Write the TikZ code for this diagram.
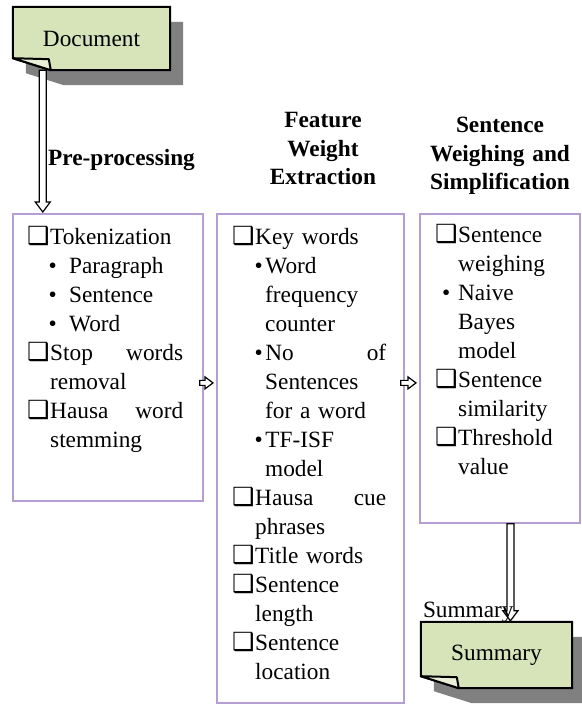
\documentclass[tikz,border=0pt]{standalone}
\usepackage{fontspec}
\setmainfont{Liberation Serif}
\newfontfamily\symfont{DejaVu Sans}
\usetikzlibrary{calc,positioning,backgrounds}
\definecolor{notegreen}{RGB}{215,227,185}
\definecolor{flapgreen}{RGB}{232,239,214}
\definecolor{shadowgray}{RGB}{128,128,128}
\definecolor{lilac}{RGB}{180,158,212}
\newcommand\chk{\makebox[20pt][l]{\hspace{-3pt}\symfont\fontsize{25}{25}\selectfont ❑}}
\newcommand\ind[1]{\hspace*{#1}}
\newcommand\bul[2]{\hspace*{#1}\textbullet\hspace{#2}}

\begin{document}
\begin{tikzpicture}[x=1pt,y=1pt,
txt/.style={font={\fontsize{23.3}{29}\selectfont},inner sep=0pt},
stage/.style={draw=lilac,line width=1.8pt,inner sep=0pt,anchor=north west},
items/.style={txt,align=left,anchor=base west},
head/.style={txt,font={\bfseries\fontsize{23.3}{28.5}\selectfont},align=center,anchor=base},
fatdown/.style={draw=black,fill=white,line width=1.2pt,line join=miter,
  to path={let \p1=(\tikztostart),\p2=(\tikztotarget) in
  (\x1-3.5pt,\y1) -- (\x1-3.5pt,\y2+11pt) -- (\x1-7.5pt,\y2+11pt) -- (\x1,\y2+1pt)
  -- (\x1+7.5pt,\y2+11pt) -- (\x1+3.5pt,\y2+11pt) -- (\x1+3.5pt,\y1) -- cycle}},
fatright/.style={draw=black,fill=white,line width=1.2pt,line join=miter,
  to path={let \p1=(\tikztostart),\p2=(\tikztotarget) in
  (\x1-4pt,\y1-2.5pt) -- (\x2-11pt,\y1-2.5pt) -- (\x2-11pt,\y1-6pt) -- (\x2-3pt,\y1)
  -- (\x2-11pt,\y1+6pt) -- (\x2-11pt,\y1+2.5pt) -- (\x1-4pt,\y1+2.5pt) -- cycle}}]
\useasboundingbox (0,0) rectangle (581,704);

\node[txt,minimum width=157,minimum height=63] (doc) at (91.5,665.5) {Document};
\node[txt,minimum width=151,minimum height=66] (sum) at (496.5,49) {Summary};

\begin{scope}[on background layer]
\foreach \n in {doc,sum}
{
\fill[shadowgray] ([shift={(13,-15)}]\n.north west) -- ([shift={(13,-15)}]\n.north east)
  -- ([shift={(13,-15)}]\n.south east) -- ([shift={(51,-15)}]\n.south west)
  -- ([shift={(13,-3)}]\n.south west) -- cycle;
\filldraw[fill=notegreen,line width=2pt] (\n.north west) -- (\n.north east) -- (\n.south east)
  -- ([xshift=38]\n.south west) -- ([yshift=12]\n.south west) -- cycle;
\filldraw[fill=flapgreen,line width=2pt,line join=round] ([yshift=12]\n.south west)
  -- ([shift={(36,11)}]\n.south west) -- ([xshift=38]\n.south west) -- cycle;
}
\end{scope}

\node[stage,minimum width=190,minimum height=287] (box1) at (12,491) {};
\node[stage,minimum width=187,minimum height=489] (box2) at (216,491) {};
\node[stage,minimum width=160,minimum height=309] (box3) at (419,491) {};

\node[txt,font={\bfseries\fontsize{23.3}{29}\selectfont},anchor=base west] (pre) at (48,538) {Pre-processing};
\node[head,text width=180] (few) at (323,576) {Feature\\Weight\\Extraction};
\node[head,text width=170] (sws) at (500,571) {Sentence\\Weighing and\\Simplification};

\node[items,text width=153] (tok) at ([shift={(18,-32)}]box1.north west)
{\chk Tokenization\\
\bul{18.5pt}{12.3pt}Paragraph\\
\bul{18.5pt}{12.3pt}Sentence\\
\bul{18.5pt}{12.3pt}Word\\
\chk Stop\hfill words\\
\ind{20pt}removal\\
\chk Hausa\hfill word\\
\ind{20pt}stemming};

\node[items,text width=151] (kw) at ([shift={(19,-32)}]box2.north west)
{\chk Key words\\
\bul{19.5pt}{2.5pt}Word\\
\ind{30pt}frequency\\
\ind{30pt}counter\\
\bul{19.5pt}{2.5pt}No\hfill of\\
\ind{30pt}Sentences\\
\ind{30pt}for a word\\
\bul{19.5pt}{2.5pt}TF-ISF\\
\ind{30pt}model\\
\chk Hausa\hfill cue\\
\ind{20pt}phrases\\
\chk Title words\\
\chk Sentence\\
\ind{20pt}length\\
\chk Sentence\\
\ind{20pt}location};

\node[items,text width=125] (sw) at ([shift={(19,-30)}]box3.north west)
{\chk Sentence\\
\ind{20pt}weighing\\
\bul{4pt}{7.8pt}Naive\\
\ind{20pt}Bayes\\
\ind{20pt}model\\
\chk Sentence\\
\ind{20pt}similarity\\
\chk Threshold\\
\ind{20pt}value};

\draw[fatdown] ([xshift=30]doc.south west) to (box1.north);
\draw[fatright] ([yshift=-25.5]box1.east) to (box2.west);
\draw[fatright] ([yshift=75.5]box2.east) to (box3.west);
\draw[fatdown] ([xshift=10.5]box3.south) to (sum.north);
\node[txt,anchor=base west] (sumlab) at ([shift={(2,4)}]sum.north west) {Summary};
\end{tikzpicture}
\end{document}
